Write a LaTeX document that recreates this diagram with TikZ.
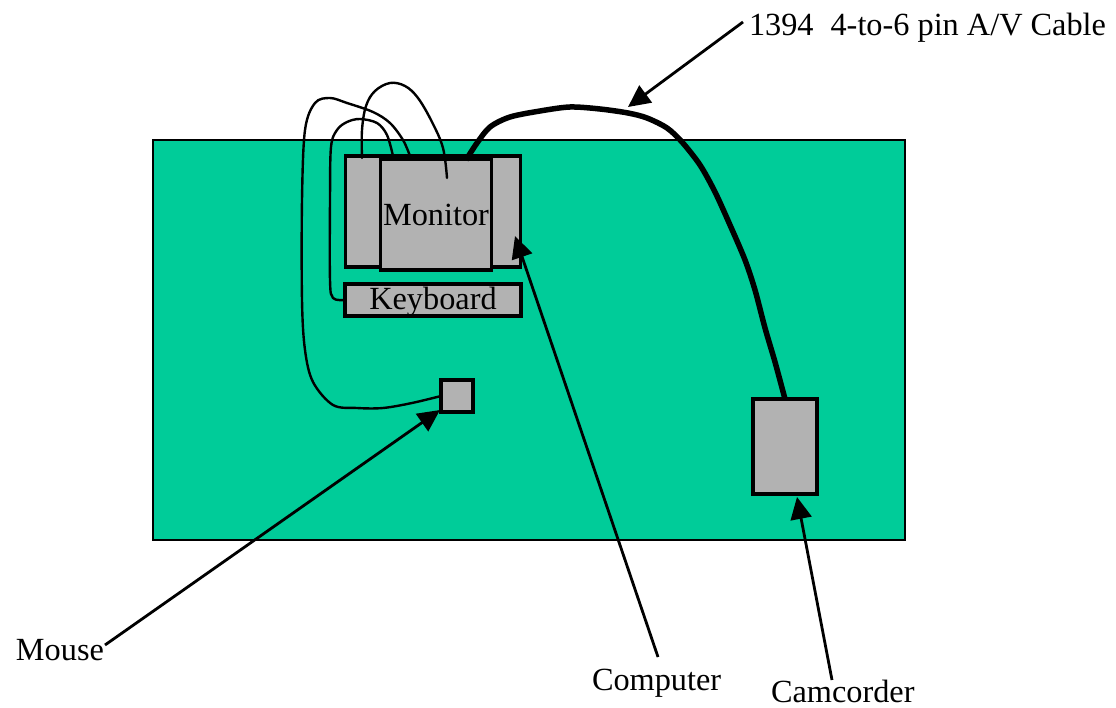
\documentclass[tikz,border=0pt]{standalone}
\usepackage{fontspec}
\setmainfont{Liberation Serif}
\usetikzlibrary{arrows.meta}
\definecolor{board}{RGB}{0,204,153}
\definecolor{dev}{RGB}{178,178,178}
\tikzset{
  box/.style={draw=black, line width=3.2pt, fill=dev, inner sep=0pt, outer sep=0pt},
  wire/.style={line width=2.4pt, line join=round, line cap=round},
  cablewire/.style={line width=5.5pt, line join=round},
  pointer/.style={line width=2.8pt, -{Triangle[length=22pt,width=21pt]}},
  lbl/.style={inner sep=0pt, outer sep=0pt, anchor=base west},
}
\begin{document}
\begin{tikzpicture}[x=1pt,y=-1pt,font=\fontsize{32.3}{38}\selectfont]
\useasboundingbox (0,0) rectangle (1116,708);
\node[box, fill=board, line width=2.8pt, minimum width=752pt, minimum height=400pt] (board) at (529,340) {};
\node[box, minimum width=175pt, minimum height=111pt] (mback) at (433,211.5) {};
\node[box, minimum width=111pt, minimum height=111pt, text height=23pt, text depth=0pt] (mfront) at (436,214.5) {Monitor};
\node[box, minimum width=176pt, minimum height=32pt, text height=22pt, text depth=2pt] (kbd) at (433,300) {Keyboard};
\node[box, minimum width=32pt, minimum height=32pt] (mouse) at (457,396) {};
\node[box, minimum width=64pt, minimum height=95pt] (cam) at (785,446.5) {};
% connection points on the monitor top
\coordinate (pm) at (410,156);
\coordinate (pk) at (393,156);
\coordinate (pa) at (362,158);
\coordinate (pb) at (447,178);
\coordinate (pc) at (466,160);
% thin wires
\draw[wire] plot[smooth, tension=0.55] coordinates {(mouse.west) (412,403) (383,408) (357,408) (333,405) (313,382) (305,350) (302,300) (302,200) (305,130) (315,103) (330,98) (347,103) (373,112) (390,123) (403,140) (pm)};
\draw[wire] plot[smooth, tension=0.55] coordinates {(kbd.west) (333,298) (330,280) (330,200) (331,147) (337,130) (347,122) (360,119) (377,123) (387,135) (pk)};
\draw[wire] plot[smooth, tension=0.6] coordinates {(pa) (362,130) (366,106) (375,91) (390,83) (405,86) (418,98) (432,122) (443,148) (pb)};
% 1394 cable
\draw[cablewire] plot[smooth, tension=0.5] coordinates {(pc) (477,143) (490,127) (510,117) (540,111) (570,107) (600,109) (628,113) (647,118) (667,128) (682,142) (700,165) (715,192) (730,225) (745,260) (755,290) (765,328) (775,362) (cam.north)};
% labels and pointers
\coordinate (tcable) at (628,107);
\coordinate (tmouse) at (440,410);
\coordinate (tcomp) at (515,236);
\coordinate (tcam) at (797,497);
\node[lbl] (lcable) at (749,36) {1394\hspace{17pt}4-to-6 pin A/V Cable};
\node[lbl] (lmouse) at (16,660) {Mouse};
\node[lbl] (lcomp) at (592,690) {Computer};
\node[lbl] (lcam) at (771,702) {Camcorder};
\draw[pointer] (743,22) coordinate (scable) -- (tcable);
\draw[pointer] (105,645) coordinate (smouse) -- (tmouse);
\draw[pointer] (658,657) coordinate (scomp) -- (tcomp);
\draw[pointer] (832,680) coordinate (scam) -- (tcam);
\end{tikzpicture}
\end{document}
